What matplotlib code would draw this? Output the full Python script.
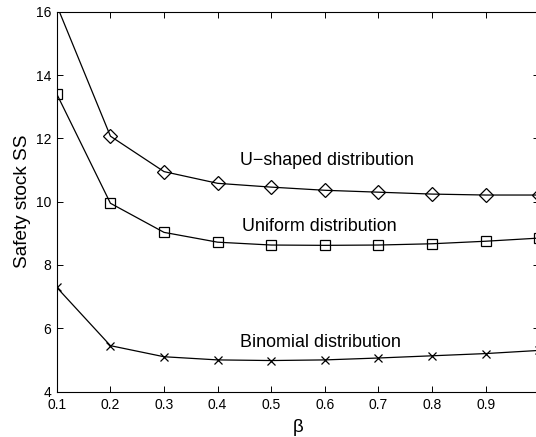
import matplotlib.pyplot as plt

plt.rcParams['font.family'] = ['Liberation Sans', 'DejaVu Sans']

# beta values and safety stock for each demand distribution
beta = [0.1, 0.2, 0.3, 0.4, 0.5, 0.6, 0.7, 0.8, 0.9, 1.0]
ss_ushaped = [16.2, 12.07, 10.95, 10.58, 10.46, 10.36, 10.30, 10.24, 10.21, 10.21]
ss_uniform = [13.4, 9.95, 9.03, 8.72, 8.63, 8.62, 8.63, 8.67, 8.75, 8.85]
ss_binomial = [7.29, 5.45, 5.10, 5.00, 4.98, 5.00, 5.06, 5.13, 5.20, 5.30]

xticks = [0.1, 0.2, 0.3, 0.4, 0.5, 0.6, 0.7, 0.8, 0.9, 1.0]
xticklabels = ['0.1', '0.2', '0.3', '0.4', '0.5', '0.6', '0.7', '0.8', '0.9', '1']
yticks = [4, 6, 8, 10, 12, 14, 16]

fig = plt.figure(figsize=(5.36, 4.37), dpi=100)
fig.patch.set_facecolor('white')
ax = fig.add_axes([0.106, 0.104, 0.900, 0.869])

ax.plot(beta, ss_ushaped, 'k-', marker='D', markersize=7, markerfacecolor='none',
        markeredgewidth=0.9, linewidth=0.9)
ax.plot(beta, ss_uniform, 'k-', marker='s', markersize=6.5, markerfacecolor='none',
        markeredgewidth=0.9, linewidth=0.9)
ax.plot(beta, ss_binomial, 'k-', marker='x', markersize=6,
        markeredgewidth=0.9, linewidth=0.9)

ax.text(0.442, 11.31, 'U\u2212shaped distribution', fontsize=12.9, va='center')
ax.text(0.446, 9.23, 'Uniform distribution', fontsize=12.9, va='center')
ax.text(0.442, 5.54, 'Binomial distribution', fontsize=12.9, va='center')

ax.set_xlim(0.1, 1.0)
ax.set_ylim(4, 16)
ax.set_xticks(xticks)
ax.set_xticklabels(xticklabels)
ax.set_yticks(yticks)
ax.tick_params(direction='in', top=True, right=True, labelsize=10, length=4, width=0.7)
ax.tick_params(axis='x', pad=5)
ax.tick_params(axis='y', pad=4)
for s in ax.spines.values():
    s.set_linewidth(0.8)

ax.set_xlabel('\u03b2', fontsize=13.5, labelpad=5)
ax.set_ylabel('Safety stock SS', fontsize=13.7)
ax.yaxis.set_label_coords(-0.054, 0.5)

fig.savefig('out.png', dpi=100)
